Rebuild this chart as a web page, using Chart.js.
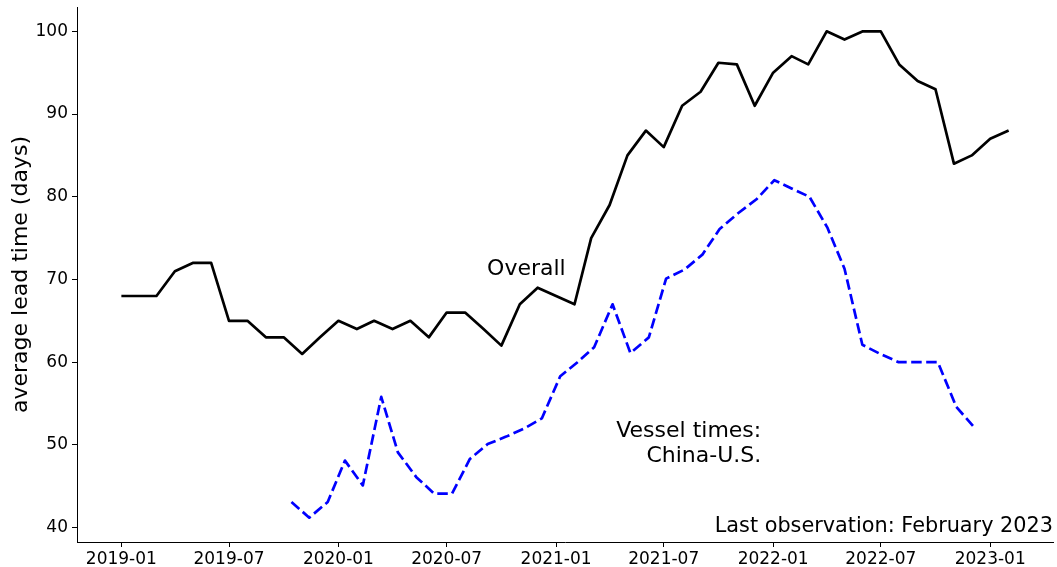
<!DOCTYPE html>
<html><head><meta charset="utf-8">
<script src="https://cdn.jsdelivr.net/npm/chart.js@4.4.1/dist/chart.umd.min.js"></script>
<style>html,body{margin:0;padding:0;background:#fff;}</style>
</head><body>
<canvas id="c" width="1057" height="567"></canvas>
<script>
// ---- data ----
const overallMonths = [
 '2019-01','2019-02','2019-03','2019-04','2019-05','2019-06','2019-07','2019-08','2019-09','2019-10','2019-11','2019-12',
 '2020-01','2020-02','2020-03','2020-04','2020-05','2020-06','2020-07','2020-08','2020-09','2020-10','2020-11','2020-12',
 '2021-01','2021-02','2021-03','2021-04','2021-05','2021-06','2021-07','2021-08','2021-09','2021-10','2021-11','2021-12',
 '2022-01','2022-02','2022-03','2022-04','2022-05','2022-06','2022-07','2022-08','2022-09','2022-10','2022-11','2022-12',
 '2023-01','2023-02'];
const overallValues = [
 68,68,68,71,72,72,65,65,63,63,61,63,
 65,64,65,64,65,63,66,66,64,62,67,69,
 68,67,75,79,85,88,86,91,92.7,96.2,96,91,
 95,97,96,100,99,100,100,96,94,93,84,85,
 87,88];
const vesselDates = [
 '2019-10-14','2019-11-13','2019-12-14','2020-01-12','2020-02-11','2020-03-13','2020-04-10','2020-05-11','2020-06-10',
 '2020-07-10','2020-08-09','2020-09-08','2020-10-09','2020-11-09','2020-12-08','2021-01-08','2021-02-06','2021-03-06',
 '2021-04-06','2021-05-06','2021-06-06','2021-07-05','2021-08-05','2021-09-04','2021-10-03','2021-11-03','2021-12-04',
 '2022-01-03','2022-02-01','2022-03-03','2022-04-02','2022-05-01','2022-05-31','2022-06-30','2022-07-31','2022-09-01',
 '2022-10-05','2022-11-05','2022-12-03'];
const vesselValues = [
 43.1,41.2,43.1,48.1,45.1,55.8,49.1,46.1,44.1,
 44.1,48.3,50.1,51,52,53.2,58.3,60,61.8,
 67,61.1,63,70.1,71.2,73,76.1,78,79.7,
 82,81,80,76.3,71.3,62.1,61,60,60,
 60,54.6,52.3];
const xTickDates = ['2019-01-01','2019-07-01','2020-01-01','2020-07-01','2021-01-01','2021-07-01','2022-01-01','2022-07-01','2023-01-01'];
const xTickLabels = ['2019-01','2019-07','2020-01','2020-07','2021-01','2021-07','2022-01','2022-07','2023-01'];
const yTickValues = [40,50,60,70,80,90,100];
const annotations = [
 {text:'Overall', date:'2020-09-07', value:70.5, align:'left'},
 {text:'Vessel times:', date:'2021-12-12', value:50.9, align:'right'},
 {text:'China-U.S.', date:'2021-12-12', value:47.9, align:'right'}
];
const footNote = 'Last observation: February 2023';

// ---- helpers ----
const ORIGIN = Date.UTC(2019,0,1);
function dayOf(s){ const p=s.split('-').map(Number); return (Date.UTC(p[0],p[1]-1,p[2]||1)-ORIGIN)/864e5; }
const FONT = "'DejaVu Sans', 'Liberation Sans', sans-serif";

const overallPts = overallMonths.map((m,i)=>({x:dayOf(m), y:overallValues[i]}));
const vesselPts = vesselDates.map((d,i)=>({x:dayOf(d), y:vesselValues[i]}));
const allX = overallPts.concat(vesselPts).map(p=>p.x);
const allY = overallPts.concat(vesselPts).map(p=>p.y);
const xMin0=Math.min(...allX), xMax0=Math.max(...allX), yMin0=Math.min(...allY), yMax0=Math.max(...allY);
const xm=(xMax0-xMin0)*0.05, ym=(yMax0-yMin0)*0.05;

const textPlugin = {
  id:'texts',
  afterDatasetsDraw(chart){
    const {ctx, chartArea, scales} = chart;
    ctx.save();
    ctx.fillStyle = '#000';
    ctx.textBaseline = 'alphabetic';
    ctx.font = '22px ' + FONT;
    annotations.forEach(a=>{
      ctx.textAlign = a.align;
      ctx.fillText(a.text, scales.x.getPixelForValue(dayOf(a.date)), scales.y.getPixelForValue(a.value));
    });
    ctx.font = '20.8px ' + FONT;
    ctx.textAlign = 'right';
    ctx.fillText(footNote, chartArea.right, chartArea.bottom - 10);
    ctx.restore();
  }
};

new Chart(document.getElementById('c'), {
  type:'line',
  data:{datasets:[
    {label:'Overall', data:overallPts, borderColor:'#000', borderWidth:2.7, pointRadius:0, tension:0, fill:false,
     borderJoinStyle:'round', borderCapStyle:'butt'},
    {label:'Vessel times: China-U.S.', data:vesselPts, borderColor:'#0000ff', borderWidth:2.7, pointRadius:0, tension:0, fill:false,
     borderDash:[10.5,4.5], borderJoinStyle:'round', borderCapStyle:'butt'}
  ]},
  options:{
    responsive:false, animation:false, devicePixelRatio:1,
    layout:{padding:{top:7, right:4, left:0, bottom:0}},
    plugins:{legend:{display:false}, tooltip:{enabled:false}},
    scales:{
      x:{type:'linear', min:xMin0-xm, max:xMax0+xm,
         afterBuildTicks(s){ s.ticks = xTickDates.map(d=>({value:dayOf(d)})); },
         afterFit(s){ s.height = 25; s.paddingLeft = 0; s.paddingRight = 0; },
         ticks:{autoSkip:false, maxRotation:0, padding:2, color:'#000', font:{family:FONT, size:17},
                callback:(v,i)=>xTickLabels[i]},
         grid:{drawOnChartArea:false, drawTicks:true, tickLength:5, color:'#000', tickWidth:1},
         border:{display:true, color:'#000', width:1}},
      y:{type:'linear', min:yMin0-ym, max:yMax0+ym,
         afterBuildTicks(s){ s.ticks = yTickValues.map(v=>({value:v})); },
         afterFit(s){ s.width = 77; s.paddingTop = 0; s.paddingBottom = 0; },
         ticks:{padding:4, color:'#000', font:{family:FONT, size:17}, callback:v=>String(v)},
         grid:{drawOnChartArea:false, drawTicks:true, tickLength:5, color:'#000', tickWidth:1},
         border:{display:true, color:'#000', width:1},
         title:{display:true, text:'average lead time (days)', color:'#000', font:{family:FONT, size:22}, padding:{top:8, bottom:0}}}
    }
  },
  plugins:[textPlugin]
});
</script>
</body></html>
